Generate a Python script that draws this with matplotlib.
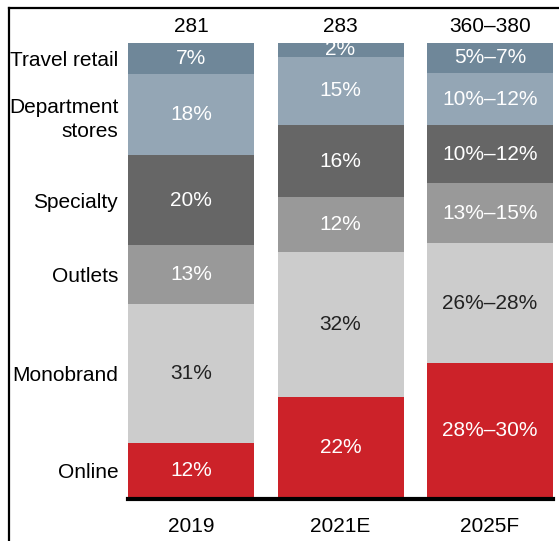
import numpy as np
import matplotlib
matplotlib.use('Agg')
import matplotlib.pyplot as plt
from matplotlib.lines import Line2D

plt.rcParams['font.family'] = ['Liberation Sans', 'DejaVu Sans']

# stacking order: bottom to top
channels = ['Online', 'Monobrand', 'Outlets', 'Specialty', 'Department\nstores', 'Travel retail']
years = ['2019', '2021E', '2025F']
totals = ['281', '283', '360\u2013380']

# segment shares (normalised per bar below)
share_2019 = [12, 31, 13, 20, 18, 7]
share_2021 = [22, 32, 12, 16, 15, 3]
share_2025 = [29.5, 26.4, 13.2, 12.8, 11.5, 6.6]

labels_2019 = ['12%', '31%', '13%', '20%', '18%', '7%']
labels_2021 = ['22%', '32%', '12%', '16%', '15%', '2%']
labels_2025 = ['28%\u201330%', '26%\u201328%', '13%\u201315%', '10%\u201312%', '10%\u201312%', '5%\u20137%']

colors = ['#cc2229', '#cccccc', '#999999', '#666666', '#94a6b5', '#6f8799']
text_colors = ['white', '#222222', 'white', 'white', 'white', 'white']

FS = 15
W, H = 559, 541

fig = plt.figure(figsize=(W / 100, H / 100), dpi=100)
left, right, top, bottom = 128, 553, 43, 497
ax = fig.add_axes([left / W, 1 - bottom / H, (right - left) / W, (bottom - top) / H])

for sp in ['top', 'left', 'right']:
    ax.spines[sp].set_visible(False)
ax.spines['bottom'].set_linewidth(3)
ax.spines['bottom'].set_position(('outward', 1.5))
ax.spines['bottom'].set_color('black')

width = 126 / 149.5
x = np.arange(len(years))
shares = [share_2019, share_2021, share_2025]
labels = [labels_2019, labels_2021, labels_2025]

for i, (s, lab) in enumerate(zip(shares, labels)):
    s = np.array(s, dtype=float)
    s = s / s.sum() * 100
    base = 0.0
    for j, v in enumerate(s):
        ax.bar(x[i], v, width=width, bottom=base, color=colors[j], edgecolor='none')
        ax.text(x[i], base + v / 2, lab[j], ha='center', va='center',
                fontsize=FS, color=text_colors[j])
        base += v
    ax.text(x[i], 101.6, totals[i], ha='center', va='bottom', fontsize=FS, color='black')

# channel labels aligned with the first bar
s0 = np.array(share_2019, dtype=float)
s0 = s0 / s0.sum() * 100
centers = np.cumsum(s0) - s0 / 2
ax.set_yticks(centers)
ax.set_yticklabels(channels, fontsize=FS, linespacing=1.35)
ax.tick_params(axis='y', length=0, pad=7)

ax.set_xticks(x)
ax.set_xticklabels(years, fontsize=FS)
ax.tick_params(axis='x', length=0, pad=13)

ax.set_xlim(-width / 2, x[-1] + width / 2)
ax.set_ylim(0, 100)

# partial frame around the exhibit
fig.add_artist(Line2D([9 / W, 1], [1 - 8 / H, 1 - 8 / H], color='black', lw=1.6))
fig.add_artist(Line2D([9 / W, 9 / W], [0, 1 - 8 / H], color='black', lw=1.6))

fig.savefig('out.png', dpi=100)
